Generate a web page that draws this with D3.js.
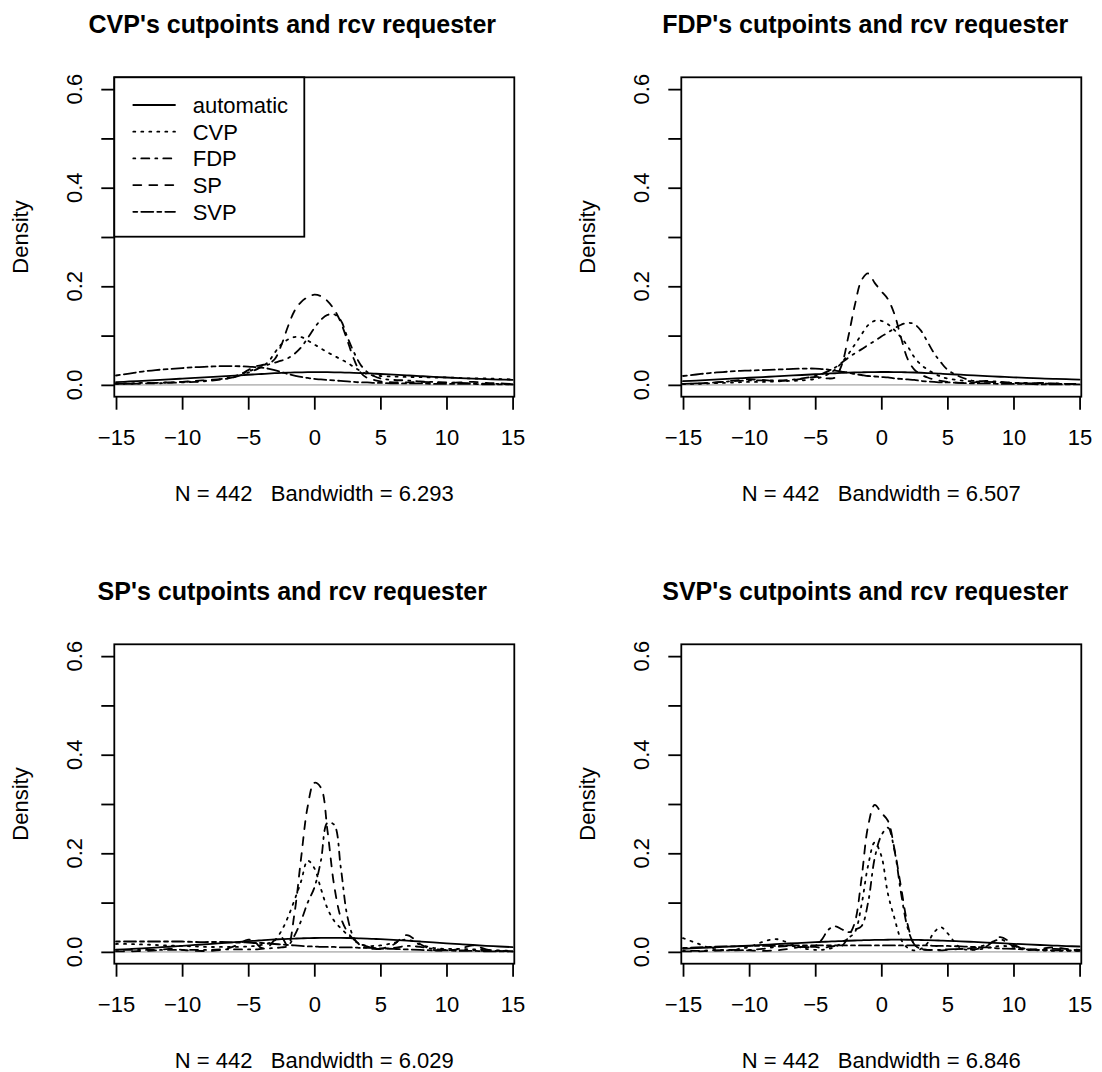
<!DOCTYPE html>
<html>
<head>
<meta charset="utf-8">
<script src="https://cdn.jsdelivr.net/npm/d3@7"></script>
<style>
  html, body { margin: 0; padding: 0; background: #fff; }
  svg { display: block; font-family: "Liberation Sans", Arial, Helvetica, sans-serif; }
</style>
</head>
<body>
<svg id="chart" width="1102" height="1072"></svg>
<script>
// Evaluation grid for every density curve (finer around the centre)
const xGrid = [-15,-14,-13,-12,-11,-10,-9,-8,-7,-6,
  -5,-4.5,-4,-3.5,-3,-2.5,-2,-1.5,-1,-0.5,0,0.5,1,1.5,2,2.5,3,3.5,4,4.5,5,
  6,7,8,9,10,11,12,13,14,15];

const seriesNames = ["automatic", "CVP", "FDP", "SP", "SVP"];
const panelTitles = [
  "CVP's cutpoints and rcv requester",
  "FDP's cutpoints and rcv requester",
  "SP's cutpoints and rcv requester",
  "SVP's cutpoints and rcv requester"
];
const sampleSize = 442;
const bandwidths = ["6.293", "6.507", "6.029", "6.846"];

const xTicks = [-15, -10, -5, 0, 5, 10, 15];
const yTicks = [0, 0.1, 0.2, 0.3, 0.4, 0.5, 0.6];
const yTickLabels = [0, 0.2, 0.4, 0.6];

// --- CVP's cutpoints ---
const cvpAutomatic = [0.0055,0.0068,0.0082,0.0097,0.0112,0.0127,0.0142,0.0157,0.0171,0.0188,
  0.0205,0.0213,0.0221,0.0229,0.0237,0.0243,0.0248,0.0252,0.0255,0.0257,0.0258,0.0258,0.0257,0.0255,0.0252,0.0248,0.0244,0.0239,0.0234,0.0228,0.0221,
  0.0207,0.0193,0.0178,0.0164,0.0150,0.0137,0.0126,0.0116,0.0108,0.0101];
const cvpCVP = [0.003,0.003,0.004,0.004,0.005,0.006,0.007,0.009,0.012,0.018,
  0.027,0.032,0.037,0.046,0.065,0.082,0.092,0.097,0.097,0.090,0.082,0.074,0.066,0.059,0.052,0.045,0.036,0.028,0.022,0.019,0.018,
  0.017,0.016,0.016,0.015,0.015,0.014,0.013,0.013,0.012,0.011];
const cvpFDP = [0.002,0.002,0.003,0.003,0.004,0.005,0.006,0.008,0.011,0.016,
  0.025,0.030,0.036,0.041,0.045,0.049,0.054,0.063,0.076,0.095,0.115,0.132,0.142,0.143,0.131,0.097,0.066,0.041,0.026,0.018,0.013,
  0.010,0.009,0.007,0.006,0.005,0.004,0.003,0.002,0.002,0.001];
const cvpSP = [0.002,0.002,0.003,0.004,0.005,0.006,0.008,0.010,0.012,0.016,
  0.030,0.037,0.040,0.043,0.052,0.080,0.118,0.150,0.168,0.178,0.183,0.180,0.170,0.153,0.127,0.090,0.052,0.025,0.014,0.010,0.007,
  0.005,0.005,0.006,0.005,0.004,0.005,0.006,0.004,0.003,0.002];
const cvpSVP = [0.019,0.023,0.027,0.030,0.032,0.034,0.036,0.037,0.038,0.038,
  0.037,0.036,0.035,0.033,0.030,0.026,0.022,0.019,0.016,0.014,0.012,0.011,0.010,0.009,0.008,0.007,0.006,0.005,0.005,0.004,0.004,
  0.003,0.003,0.003,0.002,0.002,0.002,0.002,0.001,0.001,0.001];

// --- FDP's cutpoints ---
const fdpAutomatic = [0.0075,0.0088,0.0102,0.0116,0.0130,0.0144,0.0158,0.0172,0.0186,0.0200,
  0.0215,0.0222,0.0229,0.0236,0.0242,0.0248,0.0252,0.0255,0.0258,0.0260,0.0261,0.0261,0.0260,0.0258,0.0255,0.0251,0.0246,0.0240,0.0234,0.0227,0.0220,
  0.0206,0.0192,0.0178,0.0165,0.0153,0.0142,0.0132,0.0123,0.0115,0.0108];
const fdpCVP = [0.002,0.002,0.003,0.004,0.005,0.006,0.006,0.007,0.008,0.009,
  0.012,0.016,0.022,0.031,0.045,0.062,0.082,0.102,0.121,0.130,0.130,0.123,0.111,0.096,0.078,0.056,0.041,0.031,0.023,0.017,0.013,
  0.009,0.007,0.006,0.005,0.004,0.004,0.003,0.003,0.002,0.002];
const fdpFDP = [0.002,0.003,0.004,0.006,0.008,0.009,0.009,0.009,0.010,0.013,
  0.018,0.022,0.028,0.035,0.045,0.055,0.064,0.072,0.081,0.089,0.098,0.106,0.115,0.122,0.126,0.123,0.110,0.087,0.064,0.046,0.031,
  0.016,0.008,0.008,0.006,0.004,0.003,0.003,0.002,0.002,0.001];
const fdpSP = [0.002,0.003,0.004,0.006,0.009,0.011,0.010,0.008,0.009,0.012,
  0.016,0.015,0.013,0.015,0.040,0.097,0.162,0.212,0.226,0.207,0.190,0.174,0.143,0.095,0.052,0.031,0.021,0.015,0.011,0.008,0.006,
  0.004,0.005,0.006,0.005,0.004,0.003,0.004,0.003,0.002,0.002];
const fdpSVP = [0.018,0.021,0.024,0.026,0.028,0.029,0.030,0.031,0.032,0.033,
  0.033,0.032,0.031,0.029,0.027,0.025,0.022,0.020,0.018,0.017,0.016,0.015,0.013,0.012,0.011,0.010,0.008,0.007,0.006,0.005,0.005,
  0.004,0.003,0.003,0.002,0.002,0.002,0.001,0.001,0.001,0.001];

// --- SP's cutpoints ---
const spAutomatic = [0.0045,0.0057,0.0071,0.0087,0.0104,0.0122,0.0140,0.0159,0.0178,0.0197,
  0.0216,0.0225,0.0234,0.0243,0.0251,0.0258,0.0265,0.0270,0.0275,0.0278,0.0281,0.0283,0.0284,0.0284,0.0283,0.0281,0.0278,0.0274,0.0269,0.0263,0.0257,
  0.0243,0.0227,0.0210,0.0192,0.0174,0.0156,0.0139,0.0123,0.0109,0.0096];
const spCVP = [0.016,0.016,0.015,0.014,0.013,0.012,0.011,0.010,0.010,0.010,
  0.011,0.012,0.014,0.017,0.023,0.042,0.070,0.105,0.143,0.185,0.170,0.128,0.088,0.063,0.048,0.035,0.023,0.016,0.012,0.012,0.013,
  0.018,0.025,0.015,0.008,0.006,0.006,0.005,0.004,0.003,0.002];
const spFDP = [0.004,0.004,0.004,0.004,0.004,0.004,0.004,0.004,0.005,0.005,
  0.005,0.005,0.006,0.007,0.008,0.009,0.012,0.033,0.063,0.100,0.130,0.185,0.262,0.258,0.172,0.072,0.028,0.013,0.008,0.006,0.006,
  0.008,0.012,0.010,0.006,0.004,0.003,0.003,0.002,0.002,0.001];
const spSP = [0.001,0.001,0.002,0.003,0.006,0.004,0.002,0.002,0.004,0.012,
  0.025,0.020,0.008,0.010,0.024,0.030,0.012,0.078,0.190,0.295,0.343,0.333,0.245,0.135,0.070,0.041,0.025,0.016,0.011,0.007,0.006,
  0.015,0.034,0.016,0.004,0.003,0.006,0.013,0.005,0.002,0.001];
const spSVP = [0.021,0.021,0.021,0.021,0.021,0.021,0.020,0.020,0.020,0.019,
  0.019,0.018,0.018,0.017,0.016,0.015,0.014,0.013,0.012,0.011,0.011,0.010,0.010,0.010,0.009,0.009,0.009,0.008,0.008,0.008,0.007,
  0.006,0.005,0.004,0.003,0.003,0.002,0.002,0.001,0.001,0.001];

// --- SVP's cutpoints ---
const svpAutomatic = [0.0062,0.0074,0.0087,0.0100,0.0114,0.0128,0.0142,0.0156,0.0170,0.0183,
  0.0196,0.0202,0.0208,0.0214,0.0220,0.0226,0.0231,0.0235,0.0239,0.0242,0.0244,0.0246,0.0247,0.0247,0.0246,0.0244,0.0241,0.0238,0.0234,0.0229,0.0224,
  0.0213,0.0201,0.0189,0.0176,0.0163,0.0151,0.0139,0.0128,0.0118,0.0109];
const svpCVP = [0.028,0.018,0.008,0.004,0.005,0.010,0.020,0.026,0.018,0.008,
  0.004,0.004,0.006,0.010,0.018,0.028,0.040,0.095,0.175,0.222,0.195,0.118,0.068,0.025,0.008,0.003,0.006,0.018,0.040,0.050,0.038,
  0.008,0.004,0.008,0.012,0.010,0.005,0.003,0.002,0.002,0.002];
const svpFDP = [0.002,0.002,0.003,0.003,0.003,0.004,0.006,0.010,0.012,0.010,
  0.012,0.025,0.045,0.052,0.046,0.040,0.045,0.052,0.100,0.190,0.236,0.252,0.205,0.118,0.048,0.015,0.006,0.004,0.004,0.004,0.005,
  0.006,0.008,0.015,0.025,0.012,0.006,0.004,0.006,0.005,0.003];
const svpSP = [0.001,0.001,0.002,0.003,0.004,0.003,0.002,0.003,0.006,0.010,
  0.010,0.008,0.010,0.012,0.012,0.030,0.060,0.148,0.255,0.298,0.282,0.266,0.208,0.130,0.055,0.015,0.006,0.004,0.003,0.003,0.004,
  0.006,0.005,0.012,0.030,0.015,0.004,0.006,0.009,0.006,0.004];
const svpSVP = [0.008,0.009,0.010,0.011,0.011,0.012,0.012,0.012,0.013,0.013,
  0.013,0.013,0.013,0.013,0.013,0.013,0.013,0.013,0.013,0.013,0.013,0.013,0.013,0.013,0.013,0.013,0.013,0.013,0.012,0.012,0.012,
  0.011,0.010,0.009,0.007,0.006,0.005,0.004,0.003,0.003,0.002];

const panelSeries = [
  [cvpAutomatic, cvpCVP, cvpFDP, cvpSP, cvpSVP],
  [fdpAutomatic, fdpCVP, fdpFDP, fdpSP, fdpSVP],
  [spAutomatic, spCVP, spFDP, spSP, spSVP],
  [svpAutomatic, svpCVP, svpFDP, svpSP, svpSVP]
];

// Line types: solid, dotted, dot-dash, dashed, two-dash
const dashes = [null, "2,6", "2,6,8,6", "8,8", "4,4,12,4"];

const svg = d3.select("#chart");
const STROKE = 1.8;
const FONT = 22;
const panelStep = 567;
const plotLeft = 114.3, plotTop = 77.3, plotW = 400, plotH = 319.4;

panelSeries.forEach((seriesList, p) => {
  const col = p % 2, row = Math.floor(p / 2);
  const g = svg.append("g")
    .attr("transform", `translate(${col * panelStep},${row * panelStep})`);

  const x = d3.scaleLinear().domain([-15.13, 15.13]).range([plotLeft, plotLeft + plotW]);
  const y = d3.scaleLinear().domain([-0.024, 0.624]).range([plotTop + plotH, plotTop]);

  const clipId = `clip-${p}`;
  g.append("clipPath").attr("id", clipId)
    .append("rect").attr("x", plotLeft).attr("y", plotTop)
    .attr("width", plotW).attr("height", plotH);

  const plotArea = g.append("g").attr("clip-path", `url(#${clipId})`);

  // zero reference line
  plotArea.append("line")
    .attr("x1", plotLeft).attr("x2", plotLeft + plotW)
    .attr("y1", y(0)).attr("y2", y(0))
    .attr("stroke", "#bebebe").attr("stroke-width", STROKE);

  const line = d3.line()
    .x((d, i) => x(xGrid[i]))
    .y(d => y(d))
    .curve(d3.curveCatmullRom.alpha(0.5));

  seriesList.forEach((vals, s) => {
    plotArea.append("path")
      .datum(vals)
      .attr("d", line)
      .attr("fill", "none")
      .attr("stroke", "#000")
      .attr("stroke-width", STROKE)
      .attr("stroke-linecap", "round")
      .attr("stroke-linejoin", "round")
      .attr("stroke-dasharray", dashes[s]);
  });

  // plot frame
  g.append("rect")
    .attr("x", plotLeft).attr("y", plotTop)
    .attr("width", plotW).attr("height", plotH)
    .attr("fill", "none").attr("stroke", "#000").attr("stroke-width", STROKE);

  // x axis
  const xAxis = d3.axisBottom(x).tickValues(xTicks).tickSize(13).tickPadding(20)
    .tickFormat(d3.format("d"));
  const gx = g.append("g").attr("transform", `translate(0,${plotTop + plotH})`).call(xAxis);
  gx.select(".domain").remove();
  gx.selectAll(".tick line").attr("stroke", "#000").attr("stroke-width", STROKE);
  gx.selectAll(".tick text")
    .attr("font-size", FONT).attr("font-family", null).attr("fill", "#000")
    .attr("dy", null).attr("y", 48.3);

  // y axis: ticks every 0.1, labels every 0.2 (rotated)
  const yAxis = d3.axisLeft(y).tickValues(yTicks).tickSize(13).tickFormat("");
  const gy = g.append("g").attr("transform", `translate(${plotLeft},0)`).call(yAxis);
  gy.select(".domain").remove();
  gy.selectAll(".tick line").attr("stroke", "#000").attr("stroke-width", STROKE);
  yTickLabels.forEach(v => {
    g.append("text")
      .attr("transform", `translate(${plotLeft - 32.6},${y(v)}) rotate(-90)`)
      .attr("text-anchor", "middle")
      .attr("font-size", FONT)
      .text(d3.format(".1f")(v));
  });

  // y axis title
  g.append("text")
    .attr("transform", `translate(${plotLeft - 86.8},${plotTop + plotH / 2}) rotate(-90)`)
    .attr("text-anchor", "middle")
    .attr("font-size", FONT)
    .text("Density");

  // x axis title
  g.append("text")
    .attr("x", plotLeft + plotW / 2)
    .attr("y", plotTop + plotH + 104.3)
    .attr("text-anchor", "middle")
    .attr("font-size", FONT)
    .text(`N = ${sampleSize}   Bandwidth = ${bandwidths[p]}`)
    .style("white-space", "pre");

  // main title
  g.append("text")
    .attr("x", plotLeft + plotW / 2 - 22 + col * 6)
    .attr("y", plotTop - 44.8)
    .attr("text-anchor", "middle")
    .attr("font-size", 25)
    .attr("font-weight", "bold")
    .text(panelTitles[p]);

  // legend in the first panel
  if (p === 0) {
    const lg = g.append("g");
    lg.append("rect")
      .attr("x", plotLeft).attr("y", plotTop)
      .attr("width", 190).attr("height", 159.4)
      .attr("fill", "#fff").attr("stroke", "#000").attr("stroke-width", STROKE);
    seriesNames.forEach((name, s) => {
      const ly = plotTop + 27.7 + s * 26.7;
      lg.append("line")
        .attr("x1", plotLeft + 19).attr("x2", plotLeft + 60.7)
        .attr("y1", ly).attr("y2", ly)
        .attr("stroke", "#000").attr("stroke-width", STROKE)
        .attr("stroke-linecap", "round")
        .attr("stroke-dasharray", dashes[s]);
      lg.append("text")
        .attr("x", plotLeft + 78.4).attr("y", ly + 8)
        .attr("font-size", FONT)
        .text(name);
    });
  }
});
</script>
</body>
</html>
